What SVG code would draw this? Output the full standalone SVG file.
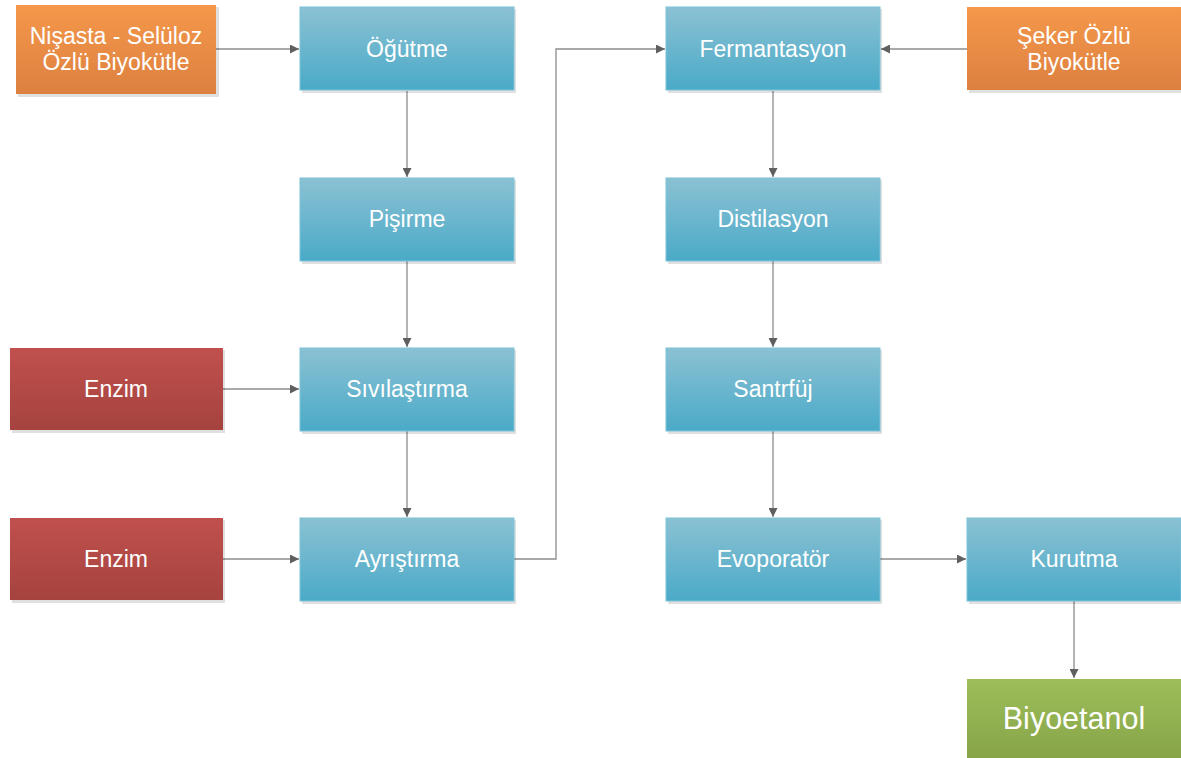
<svg xmlns="http://www.w3.org/2000/svg" width="1181" height="758" viewBox="0 0 1181 758">
<style>
text{font-family:"Liberation Sans",Arial,sans-serif;fill:#fff;text-anchor:middle;font-size:23px}
.big{font-size:30.5px}
.c{fill:none;stroke:#8c8c8c;stroke-width:1.3}
.blue{fill:url(#gb);stroke:#7cc3d8;stroke-width:1}
.or{fill:url(#go)}
.red{fill:url(#gr)}
.gr{fill:url(#gg)}
.sh{fill:#000;opacity:0.12}
</style>
<defs>
<linearGradient id="gb" x1="0" y1="0" x2="0" y2="1"><stop offset="0" stop-color="#8bc1d3"/><stop offset="1" stop-color="#4aaac8"/></linearGradient>
<linearGradient id="go" x1="0" y1="0" x2="0" y2="1"><stop offset="0" stop-color="#f5984b"/><stop offset="1" stop-color="#dc8040"/></linearGradient>
<linearGradient id="gr" x1="0" y1="0" x2="0" y2="1"><stop offset="0" stop-color="#c0504d"/><stop offset="1" stop-color="#a5433f"/></linearGradient>
<linearGradient id="gg" x1="0" y1="0" x2="0" y2="1"><stop offset="0" stop-color="#9dbd5a"/><stop offset="1" stop-color="#87a548"/></linearGradient>
<marker id="ah" viewBox="0 0 10 10" refX="10" refY="5" markerWidth="9" markerHeight="9" markerUnits="userSpaceOnUse" orient="auto"><path d="M0,0 L10,5 L0,10 Z" fill="#5f5f5f"/></marker>
</defs>
<rect width="1181" height="758" fill="#fff"/>
<g id="connectors">
<path class="c" d="M216,49 H299" marker-end="url(#ah)"/>
<path class="c" d="M407,91 V177" marker-end="url(#ah)"/>
<path class="c" d="M407,261 V347" marker-end="url(#ah)"/>
<path class="c" d="M407,431 V517" marker-end="url(#ah)"/>
<path class="c" d="M223,389 H299" marker-end="url(#ah)"/>
<path class="c" d="M223,559 H299" marker-end="url(#ah)"/>
<path class="c" d="M514,559 H556 V49 H665" marker-end="url(#ah)"/>
<path class="c" d="M967,49 H881" marker-end="url(#ah)"/>
<path class="c" d="M773,91 V177" marker-end="url(#ah)"/>
<path class="c" d="M773,261 V347" marker-end="url(#ah)"/>
<path class="c" d="M773,431 V517" marker-end="url(#ah)"/>
<path class="c" d="M880,559 H966" marker-end="url(#ah)"/>
<path class="c" d="M1074,601 V678" marker-end="url(#ah)"/>
</g>
<g id="n-nisasta"><rect class="sh" x="18" y="7" width="201" height="90"/><rect class="or" x="16" y="5" width="200" height="89"/><text x="116" y="44">Nişasta - Selüloz</text><text x="116" y="70">Özlü Biyokütle</text></g>
<g id="n-ogutme"><rect class="sh" x="302" y="9" width="214" height="84"/><rect class="blue" x="300" y="7" width="214" height="83"/><text x="407" y="57">Öğütme</text></g>
<g id="n-pisirme"><rect class="sh" x="302" y="180" width="214" height="84"/><rect class="blue" x="300" y="178" width="214" height="83"/><text x="407" y="227">Pişirme</text></g>
<g id="n-sivilastirma"><rect class="sh" x="302" y="350" width="214" height="84"/><rect class="blue" x="300" y="348" width="214" height="83"/><text x="407" y="397">Sıvılaştırma</text></g>
<g id="n-ayristirma"><rect class="sh" x="302" y="520" width="214" height="84"/><rect class="blue" x="300" y="518" width="214" height="83"/><text x="407" y="567">Ayrıştırma</text></g>
<g id="n-enzim1"><rect class="sh" x="12" y="350" width="213" height="83"/><rect class="red" x="10" y="348" width="213" height="82"/><text x="116" y="397">Enzim</text></g>
<g id="n-enzim2"><rect class="sh" x="12" y="520" width="213" height="83"/><rect class="red" x="10" y="518" width="213" height="82"/><text x="116" y="567">Enzim</text></g>
<g id="n-fermantasyon"><rect class="sh" x="668" y="9" width="214" height="84"/><rect class="blue" x="666" y="7" width="214" height="83"/><text x="773" y="57">Fermantasyon</text></g>
<g id="n-distilasyon"><rect class="sh" x="668" y="180" width="214" height="84"/><rect class="blue" x="666" y="178" width="214" height="83"/><text x="773" y="227">Distilasyon</text></g>
<g id="n-santrfuj"><rect class="sh" x="668" y="350" width="214" height="84"/><rect class="blue" x="666" y="348" width="214" height="83"/><text x="773" y="397">Santrfüj</text></g>
<g id="n-evoporator"><rect class="sh" x="668" y="520" width="214" height="84"/><rect class="blue" x="666" y="518" width="214" height="83"/><text x="773" y="567">Evoporatör</text></g>
<g id="n-seker"><rect class="sh" x="969" y="9" width="214" height="84"/><rect class="or" x="967" y="7" width="214" height="83"/><text x="1074" y="44">Şeker Özlü</text><text x="1074" y="70">Biyokütle</text></g>
<g id="n-kurutma"><rect class="sh" x="969" y="520" width="214" height="84"/><rect class="blue" x="967" y="518" width="214" height="83"/><text x="1074" y="567">Kurutma</text></g>
<g id="n-biyoetanol"><rect class="gr" x="967" y="679" width="214" height="79"/><text class="big" x="1074" y="729">Biyoetanol</text></g>
</svg>
